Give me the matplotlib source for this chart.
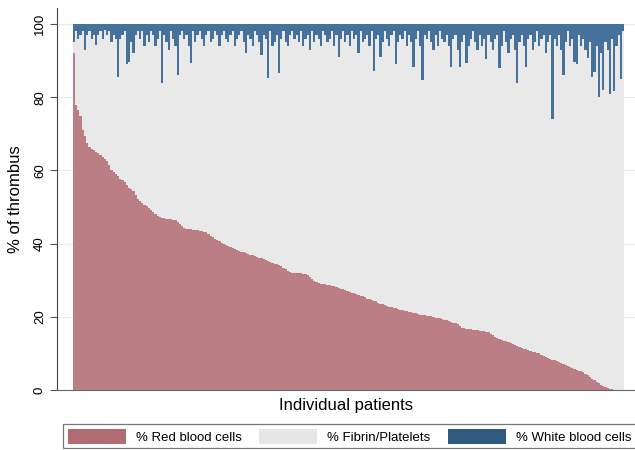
import numpy as np
import matplotlib
matplotlib.use("Agg")
import matplotlib.pyplot as plt
from matplotlib.patches import Patch

plt.rcParams['font.family'] = ['Liberation Sans', 'DejaVu Sans']

# % red blood cells per patient (sorted)
red = [92, 78, 76.5, 75, 71, 69.5, 67.5, 66.5, 66, 65.5,
       65, 64.7, 64.3, 63.8, 63.2, 62.6, 61.5, 60.2, 59.5, 59,
       58.5, 57.8, 57.4, 56.8, 56, 55.3, 54.8, 54.3, 53.2, 52.3,
       51.7, 51.2, 50.6, 50.2, 49.8, 49.3, 48.6, 48, 47.6, 47.3,
       47.1, 46.9, 46.8, 46.7, 46.6, 46.5, 46.4, 46, 45.4, 44.7,
       44.3, 44.1, 44, 43.9, 43.8, 43.7, 43.6, 43.5, 43.4, 43.3,
       43.1, 42.6, 42.2, 41.8, 41.4, 41, 40.6, 40.3, 40, 39.6,
       39.3, 39, 38.8, 38.6, 38.3, 38, 37.8, 37.6, 37.4, 37.2,
       37, 36.8, 36.6, 36.4, 36.2, 36, 35.8, 35.5, 35.2, 34.9,
       34.7, 34.5, 34.3, 34.1, 33.8, 33.4, 33, 32.5, 32.2, 32.1,
       32, 32, 31.9, 31.9, 31.8, 31.7, 31.5, 31, 30.4, 29.9,
       29.6, 29.3, 29.1, 29, 28.9, 28.8, 28.7, 28.5, 28.3, 28.1,
       27.9, 27.7, 27.5, 27.3, 27.1, 26.8, 26.6, 26.4, 26.2, 26,
       25.8, 25.6, 25.3, 25, 24.8, 24.6, 24.4, 24.2, 23.9, 23.6,
       23.4, 23.2, 23, 22.8, 22.7, 22.5, 22.4, 22.2, 22, 21.8,
       21.7, 21.5, 21.4, 21.2, 21.1, 21, 20.8, 20.6, 20.5, 20.4,
       20.3, 20.2, 20.1, 20, 19.8, 19.7, 19.6, 19.4, 19.2, 19,
       18.8, 18.6, 18.4, 18.3, 18, 17.5, 17, 16.9, 16.8, 16.7,
       16.6, 16.5, 16.4, 16.3, 16.2, 16.1, 16, 15.9, 15.8, 15.4,
       14.9, 14.4, 14.1, 13.9, 13.7, 13.5, 13.3, 13.1, 12.8, 12.5,
       12.2, 12, 11.8, 11.5, 11.3, 11.1, 10.9, 10.7, 10.5, 10.3,
       10.1, 10, 9.6, 9.3, 9, 8.8, 8.6, 8.3, 8.1, 7.9,
       7.7, 7.5, 7.2, 6.9, 6.6, 6.3, 6, 5.7, 5.5, 5.3,
       5.1, 4.8, 4.4, 4, 3.6, 3.1, 2.6, 2.2, 1.8, 1.4,
       1.1, 0.8, 0.6, 0.4, 0.2, 0, 0, 0, 0, 0]

# % white blood cells per patient (hanging from the top)
white = [5, 2, 4, 3, 2, 7, 3, 2, 4, 3,
         5.7, 3, 2, 4, 1.5, 3, 2, 5, 3, 4,
         14.5, 4, 3, 2, 11, 10.4, 5, 8, 3, 2,
         4, 2, 6, 3, 5, 2, 3, 6, 4, 2,
         16, 3, 5, 7, 2, 4, 6, 14, 3, 2,
         4, 3, 6, 10.7, 2, 5, 3, 2, 4, 6,
         3, 2, 5, 4, 2, 3, 6, 3, 2, 4,
         5, 3, 2, 6, 4, 3, 2, 5, 8, 3,
         4, 6, 2, 3, 5, 8.5, 3, 4, 14.8, 2,
         6, 5, 3, 13.4, 4, 2, 5, 6, 3, 2,
         4, 3, 5, 2, 6, 4, 3, 7, 2, 5,
         3, 4, 6, 2, 3, 5, 4, 2, 6, 3,
         9, 4, 2, 5, 3, 6, 2, 4, 3, 8,
         2, 5, 4, 3, 6, 2, 12.8, 4, 3, 9,
         5, 2, 4, 6, 3, 2, 11, 5, 3, 4,
         2, 6, 3, 5, 11.7, 4, 2, 6, 15.3, 3,
         4, 2, 5, 7, 3, 6, 2, 4, 5, 3,
         6, 11.7, 4, 3, 7, 11.7, 5, 3, 10.7, 6,
         4, 2, 5, 7, 3, 6, 4, 9.6, 3, 5,
         7, 4, 3, 12, 6, 2, 5, 8, 4, 3,
         7, 16, 5, 3, 6, 11.7, 4, 3, 7, 5,
         2, 6, 4, 3, 8, 5, 3, 26, 4, 6,
         3, 7, 14, 5, 2, 6, 4, 10.4, 11, 3,
         6, 4, 7, 9.3, 5, 14.5, 13, 6, 20, 8,
         18, 5, 7, 19, 4, 18.3, 6, 3, 15, 2]

labels = ['% Red blood cells', '% Fibrin/Platelets', '% White blood cells']
colors = ['#bb7e84', '#e9e9e9', '#46719b']
legend_colors = ['#b06c72', '#e6e6e6', '#2f5a7f']

red = np.array(red)
white = np.array(white)
fibrin = 100 - red - white
x = np.arange(len(red))

fig = plt.figure(figsize=(6.35, 4.5), dpi=100)
ax = fig.add_axes([57/635, 60/450, 1 - 57/635, 382/450])

# stacked bars, touching
bw = 1.0
ax.bar(x, red, width=bw, color=colors[0], linewidth=0)
ax.bar(x, fibrin, bottom=red, width=bw, color=colors[1], linewidth=0)
ax.bar(x, white, bottom=red + fibrin, width=bw, color=colors[2], linewidth=0)

ax.set_xlim(-7.7, 254.4)
ax.set_ylim(0, 104.4)
ax.set_yticks([0, 20, 40, 60, 80, 100])
ax.set_xticks([])
ax.set_axisbelow(True)
ax.grid(axis='y', color='#e3ecef', linewidth=0.8)

ax.tick_params(axis='y', labelrotation=90, labelsize=9.5, length=5,
               color='#555555', pad=3)
for lab in ax.get_yticklabels():
    lab.set_va('center')

for side in ['top', 'right']:
    ax.spines[side].set_visible(False)
ax.spines['left'].set_color('#444444')
ax.spines['bottom'].set_color('#666666')

ax.set_ylabel('% of thrombus', fontsize=12, labelpad=8)
ax.set_xlabel('Individual patients', fontsize=12, labelpad=6)

handles = [Patch(facecolor=c, edgecolor='none') for c in legend_colors]
leg = fig.legend(handles, labels, ncol=3, loc='upper left',
                 bbox_to_anchor=(63/635, 1 - 424/450), borderaxespad=0,
                 fontsize=9.5, frameon=True, fancybox=False,
                 handlelength=4.4, handleheight=1.4, handletextpad=0.75,
                 columnspacing=1.35, borderpad=0.35)
leg.get_frame().set_edgecolor('#555555')
leg.get_frame().set_linewidth(0.9)

fig.savefig('out.png', dpi=100, facecolor='white')
